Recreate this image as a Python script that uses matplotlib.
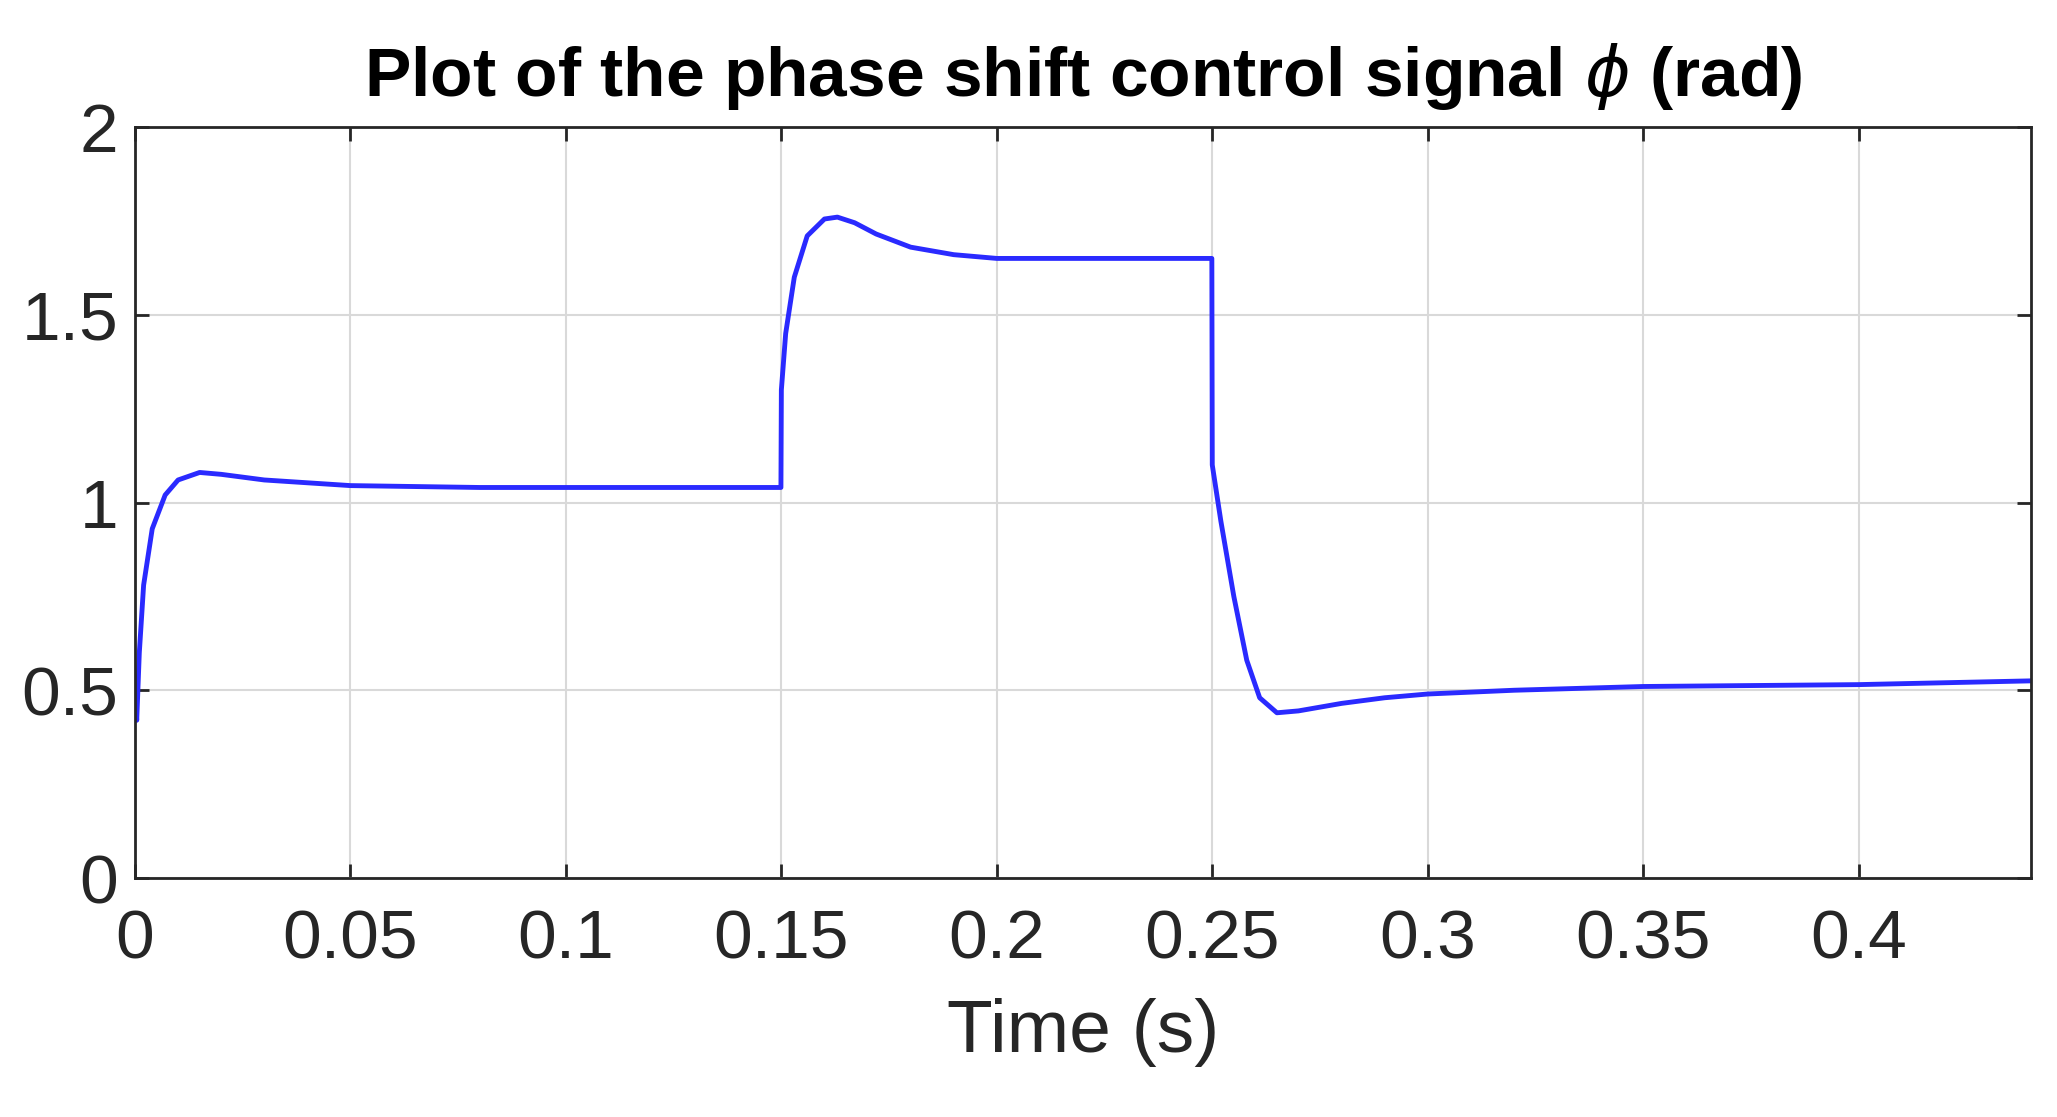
import numpy as np
import matplotlib.pyplot as plt

# phase shift signal
time_s = [0, 0.0004, 0.001, 0.002, 0.004, 0.007, 0.01, 0.015, 0.02, 0.03, 0.05, 0.08, 0.1, 0.1499,
          0.15, 0.151, 0.153, 0.156, 0.16, 0.163, 0.167, 0.172, 0.18, 0.19, 0.2, 0.2499,
          0.25, 0.252, 0.255, 0.258, 0.261, 0.265, 0.27, 0.28, 0.29, 0.3, 0.32, 0.35, 0.4, 0.44]
phi_rad = [0.5, 0.42, 0.6, 0.78, 0.93, 1.02, 1.06, 1.08, 1.075, 1.06, 1.045, 1.04, 1.04, 1.04,
           1.3, 1.45, 1.6, 1.71, 1.755, 1.76, 1.745, 1.715, 1.68, 1.66, 1.65, 1.65,
           1.1, 0.95, 0.75, 0.58, 0.48, 0.44, 0.445, 0.465, 0.48, 0.49, 0.5, 0.51, 0.515, 0.525]

plt.rcParams['font.family'] = ['Liberation Sans', 'DejaVu Sans']
fig = plt.figure(figsize=(20.57, 11.17), dpi=100)
ax = fig.add_axes([135 / 2057, 1 - 878 / 1117, (2031 - 135) / 2057, (878 - 127) / 1117])
ax.plot(time_s, phi_rad, color='#2a2aff', linewidth=3.5)
ax.set_xlim(0, 0.44)
ax.set_ylim(0, 2)
ax.set_xticks([0, 0.05, 0.1, 0.15, 0.2, 0.25, 0.3, 0.35, 0.4])
ax.set_xticklabels(['0', '0.05', '0.1', '0.15', '0.2', '0.25', '0.3', '0.35', '0.4'])
ax.set_yticks([0, 0.5, 1, 1.5, 2])
ax.set_yticklabels(['0', '0.5', '1', '1.5', '2'])
ax.grid(True, color='#d9d9d9', linewidth=1.5)
ax.tick_params(labelsize=50, colors='#262626', direction='in', length=10, width=2, top=True, right=True)
ax.tick_params(axis='x', pad=22)
ax.tick_params(axis='y', pad=12)
for s in ax.spines.values():
    s.set_linewidth(2)
    s.set_color('#262626')
ax.set_xlabel('Time (s)', fontsize=54, color='#262626', labelpad=18)
ax.set_title(r'Plot of the phase shift control signal $\phi$ (rad)', fontsize=50, fontweight='bold', pad=22)
fig.savefig('out.png', dpi=100)
